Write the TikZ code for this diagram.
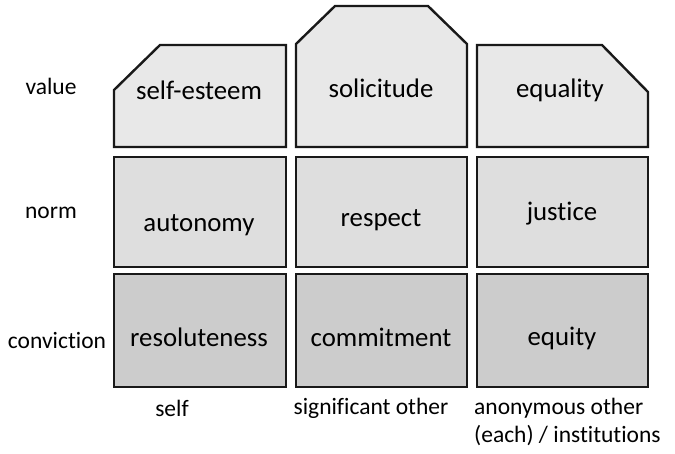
\documentclass[tikz,border=0pt]{standalone}
\usepackage{fontspec}
\setmainfont{Carlito}[Ligatures=NoCommon]
\begin{document}
\begin{tikzpicture}[x=1pt,y=-1pt,
  cell/.style={draw=black!90,line width=2.4pt,line join=miter},
  valfill/.style={cell,fill=black!9},
  normfill/.style={cell,fill=black!13},
  convfill/.style={cell,fill=black!20},
  boxtext/.style={font=\fontsize{26.8}{30}\selectfont,text=black,inner sep=0pt,anchor=center},
  lbl/.style={font=\fontsize{23.5}{28}\selectfont,text=black,inner sep=0pt,anchor=center,align=left}]
\useasboundingbox (0,0) rectangle (675,453);
% value row
\draw[valfill] (114,147) -- (114,90) -- (160,45) -- (286,45) -- (286,147) -- cycle;
\draw[valfill] (296,147) -- (296,44) -- (335,6) -- (428,6) -- (467,44) -- (467,147) -- cycle;
\draw[valfill] (477,147) -- (477,45) -- (602,45) -- (648,92) -- (648,147) -- cycle;
% norm row
\draw[normfill] (114,157) rectangle (286,267);
\draw[normfill] (296,157) rectangle (467,267);
\draw[normfill] (477,157) rectangle (648,267);
% conviction row
\draw[convfill] (114,274) rectangle (286,387);
\draw[convfill] (296,274) rectangle (467,387);
\draw[convfill] (477,274) rectangle (648,387);
% box texts
\node[boxtext] (selfesteem) at (199,90) {self-esteem};
\node[boxtext] (solicitude) at (381,88) {solicitude};
\node[boxtext] (equality) at (560,90) {equality};
\node[boxtext] (autonomy) at (199,225) {autonomy};
\node[boxtext] (respect) at (381,220) {respect};
\node[boxtext] (justice) at (562,214) {justice};
\node[boxtext] (resoluteness) at (199,337) {resoluteness};
\node[boxtext] (commitment) at (381,337) {commitment};
\node[boxtext] (equity) at (562,338) {equity};
% row labels
\node[lbl] (value) at (51,86) {value};
\node[lbl] (norm) at (51,213) {norm};
\node[lbl] (conviction) at (57,340) {conviction};
% column labels
\node[lbl] (self) at (172,408) {self};
\node[lbl] (sigother) at (371,408) {significant other};
\node[lbl,anchor=west] (anon) at (474,408) {anonymous other};
\node[lbl,anchor=west] (inst) at (474,436) {(each) / institutions};
\end{tikzpicture}
\end{document}
